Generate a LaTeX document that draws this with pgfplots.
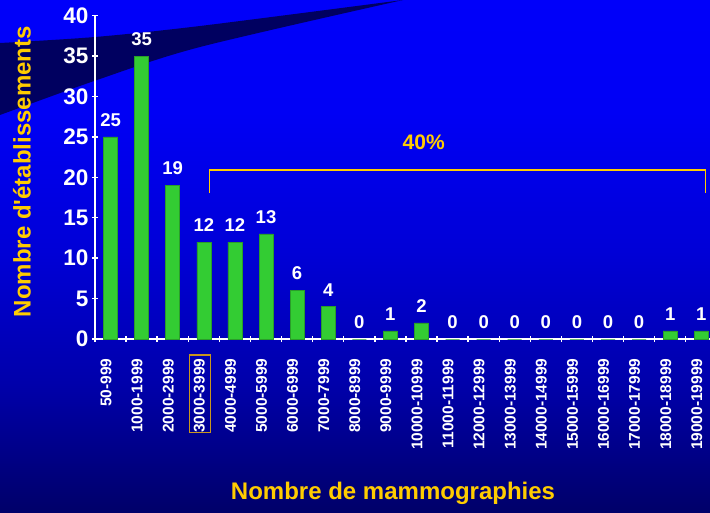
\documentclass[border=0pt]{standalone}
\usepackage{fontspec}
\setmainfont{Liberation Sans}[Ligatures=ResetAll]
\usepackage{pgfplots}
\pgfplotsset{compat=1.18}
\definecolor{gold}{HTML}{FFCC00}
\definecolor{bargreen}{HTML}{33CC33}
\definecolor{baredge}{HTML}{2A9D2A}
\definecolor{swoosh}{RGB}{0,0,96}
\definecolor{boxgold}{HTML}{C8961E}
% background: bright blue at the top, navy at the bottom (page spans 25bp..75bp)
\pgfdeclareverticalshading{bgshade}{100bp}{rgb(0bp)=(0,0,0.41); rgb(25bp)=(0,0,0.41);
  rgb(37.7bp)=(0,0,0.67); rgb(50.3bp)=(0,0,0.84); rgb(64bp)=(0,0,0.96);
  rgb(75bp)=(0,0,0.98); rgb(100bp)=(0,0,0.98)}

\begin{document}
\begin{tikzpicture}
\shade[shading=bgshade] (0,0) rectangle (710bp,-513bp);
\begin{scope}[x=1bp,y=-1bp]
  \fill[swoosh] plot[smooth] coordinates {(0,43) (95,37) (200,26) (403,0)}
    -- plot[smooth] coordinates {(403,0) (200,47) (97,80) (0,115)} -- cycle;
\end{scope}

\begin{axis}[
    at={(95bp,-339bp)}, anchor=south west,
    width=615bp, height=323.3bp, scale only axis,
    xmin=-0.5, xmax=19.28,
    ymin=0, ymax=40,
    axis lines=left,
    axis line style={white, line width=1.6bp, -},
    ybar, bar width=14bp, bar shift=0pt,
    ytick={0,5,...,40},
    xtick={0,...,19},
    xticklabels={50-999,1000-1999,2000-2999,3000-3999,4000-4999,5000-5999,
      6000-6999,7000-7999,8000-8999,9000-9999,10000-10999,11000-11999,
      12000-12999,13000-13999,14000-14999,15000-15999,16000-16999,
      17000-17999,18000-18999,19000-19999},
    minor xtick={-0.5,0.5,...,18.5},
    major x tick style={opacity=0},
    tick align=center,
    tick style={white, line width=1.4bp},
    major tick length=6bp, minor tick length=6bp,
    /pgf/number format/assume math mode=true,
    yticklabel style={font=\bfseries\fontsize{22.5bp}{24bp}\selectfont, text=white},
    xticklabel style={xshift=-4.5bp, yshift=-13bp, rotate=90, anchor=east,
      font=\bfseries\fontsize{15.5bp}{17bp}\selectfont, text=white},
    xlabel={Nombre de mammographies},
    xlabel style={at={(axis description cs:0.4846,-0.476)}, anchor=center,
      font=\bfseries\fontsize{24bp}{26bp}\selectfont, text=gold},
    ylabel={Nombre d\textquotesingle établissements},
    ylabel style={at={(axis description cs:-0.1187,0.518)}, anchor=center,
      font=\bfseries\fontsize{24bp}{26bp}\selectfont, text=gold},
    nodes near coords,
    every node near coord/.append style={font=\bfseries\fontsize{18.5bp}{20bp}\selectfont,
      text=white, yshift=7bp},
    clip=false,
]
\addplot[fill=bargreen, draw=baredge, line width=0.6bp] coordinates {
    (0,25) (1,35) (2,19) (3,12) (4,12) (5,13) (6,6) (7,4) (8,0) (9,1)
    (10,2) (11,0) (12,0) (13,0) (14,0) (15,0) (16,0) (17,0) (18,1) (19,1)
};
\end{axis}

\begin{scope}[x=1bp,y=-1bp]
  % bracket over the 3000+ categories
  \draw[gold, line width=1.3bp] (209.3,193) -- (209.3,170) -- (705.7,170) -- (705.7,193);
  \node[text=gold, font=\bfseries\fontsize{21bp}{23bp}\selectfont] at (423.7,142.3) {40\%};
  % frame round the 3000-3999 label
  \draw[boxgold, line width=1.1bp] (189.3,355) rectangle (210.3,432.7);
\end{scope}

\pgfresetboundingbox
\path[use as bounding box] (0,0) rectangle (710bp,-513bp);
\end{tikzpicture}
\end{document}
